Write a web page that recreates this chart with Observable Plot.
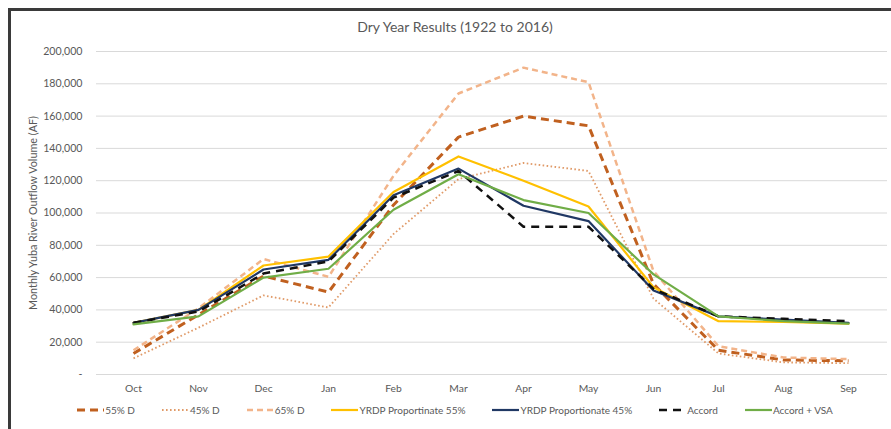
<!DOCTYPE html>
<html>
<head>
<meta charset="utf-8">
<script src="https://cdn.jsdelivr.net/npm/d3@7"></script>
<script src="https://cdn.jsdelivr.net/npm/@observablehq/plot@0.6"></script>
<style>
  html, body { margin: 0; padding: 0; background: #fff; overflow: hidden; width: 891px; height: 429px; }
  body { font-family: Lato, "Open Sans", sans-serif; color: #595959; position: relative; }
  #frame { position: absolute; left: 8px; top: 8px; width: 900px; height: 440px; border: 3px solid #3a3a3a; box-sizing: border-box; pointer-events: none; }
  #title { position: absolute; left: 0; top: 18px; width: 910px; text-align: center; font-size: 14px; color: #595959; }
  #chart { position: absolute; left: 0; top: 40px; }
  #legend { position: absolute; left: 0; top: 404px; width: 910px; display: flex; justify-content: center; gap: 27px; font-size: 10px; color: #595959; align-items: center; }
  #legend .item { display: flex; align-items: center; gap: 1px; }
</style>
</head>
<body>
<div id="title">Dry Year Results (1922 to 2016)</div>
<div id="chart"></div>
<div id="legend"></div>
<div id="frame"></div>
<script>
const months = ["Oct","Nov","Dec","Jan","Feb","Mar","Apr","May","Jun","Jul","Aug","Sep"];
const seriesNames = ["55% D","45% D","65% D","YRDP Proportinate 55%","YRDP Proportionate 45%","Accord","Accord + VSA"];
const d55    = [13000, 37000, 61000, 51000, 105000, 147000, 160000, 154000, 56000, 15000, 9000, 8500];
const d45    = [10000, 29000, 49000, 41500, 87000, 121000, 131000, 126000, 47000, 13000, 7500, 7000];
const d65    = [15000, 41000, 71500, 60500, 123000, 174000, 190000, 181000, 64000, 17500, 10500, 9500];
const yrdp55 = [32000, 40000, 67500, 73000, 113000, 135000, 120000, 104000, 54000, 33000, 32500, 31500];
const yrdp45 = [32000, 40000, 65000, 71000, 111000, 127500, 104500, 95000, 52000, 36000, 34000, 32000];
const accord = [32000, 39000, 62500, 70000, 109500, 126000, 91500, 91500, 53000, 36000, 34500, 33000];
const accordVsa = [31000, 36000, 60000, 65500, 102000, 124000, 108000, 100000, 62000, 36000, 33000, 31500];
const yTicks = [0, 20000, 40000, 60000, 80000, 100000, 120000, 140000, 160000, 180000, 200000];
const yLabel = "Monthly Yuba River Outflow Volume (AF)";

const values = [d55, d45, d65, yrdp55, yrdp45, accord, accordVsa];
const styles = [
  {stroke: "#c0601f", strokeWidth: 3, dash: "8,5"},
  {stroke: "#e09a68", strokeWidth: 1.8, dash: "1.6,2.4"},
  {stroke: "#f2b48a", strokeWidth: 2.5, dash: "6,4"},
  {stroke: "#ffc000", strokeWidth: 2.2, dash: null},
  {stroke: "#203864", strokeWidth: 2.2, dash: null},
  {stroke: "#111111", strokeWidth: 2.5, dash: "8,6"},
  {stroke: "#70ad47", strokeWidth: 2.2, dash: null}
];

const fmt = d => d === 0 ? "-" : d3.format(",")(d);

const marks = [
  Plot.gridY(yTicks, {stroke: "#d9d9d9", strokeOpacity: 1, strokeWidth: 1}),
  Plot.axisY(yTicks, {tickFormat: fmt, tickSize: 0, tickPadding: 14, fontSize: 10.6, fill: "#595959",
    label: null}),
  Plot.text([yLabel], {frameAnchor: "left", dx: -63, rotate: -90, textAnchor: "middle",
    fontSize: 10.8, fill: "#595959"}),
  Plot.axisX({tickSize: 0, tickPadding: 10, fontSize: 10.3, fill: "#595959", label: null})
];
values.forEach((vals, i) => {
  const s = styles[i];
  const data = months.map((m, j) => ({month: m, value: vals[j]}));
  marks.push(Plot.line(data, {x: "month", y: "value", stroke: s.stroke, strokeWidth: s.strokeWidth,
    strokeDasharray: s.dash, strokeLinejoin: "round", strokeLinecap: s.dash ? "butt" : "round"}));
});

const chart = Plot.plot({
  width: 891,
  height: 362,
  marginLeft: 96,
  marginRight: 4,
  marginTop: 11,
  marginBottom: 28,
  style: {fontFamily: "Lato, 'Open Sans', sans-serif", color: "#595959", background: "transparent"},
  x: {type: "point", domain: months, range: [97, 883], padding: 0.5},
  y: {domain: [0, 200000]},
  marks
});
document.getElementById("chart").appendChild(chart);

const legend = document.getElementById("legend");
seriesNames.forEach((name, i) => {
  const s = styles[i];
  const item = document.createElement("div");
  item.className = "item";
  const ns = "http://www.w3.org/2000/svg";
  const svg = document.createElementNS(ns, "svg");
  svg.setAttribute("width", 27); svg.setAttribute("height", 8);
  const line = document.createElementNS(ns, "line");
  line.setAttribute("x1", 0); line.setAttribute("x2", 27);
  line.setAttribute("y1", 4); line.setAttribute("y2", 4);
  line.setAttribute("stroke", s.stroke);
  line.setAttribute("stroke-width", s.strokeWidth);
  if (s.dash) line.setAttribute("stroke-dasharray", s.dash);
  svg.appendChild(line);
  const span = document.createElement("span");
  span.textContent = name;
  item.appendChild(svg); item.appendChild(span);
  legend.appendChild(item);
});
</script>
</body>
</html>
